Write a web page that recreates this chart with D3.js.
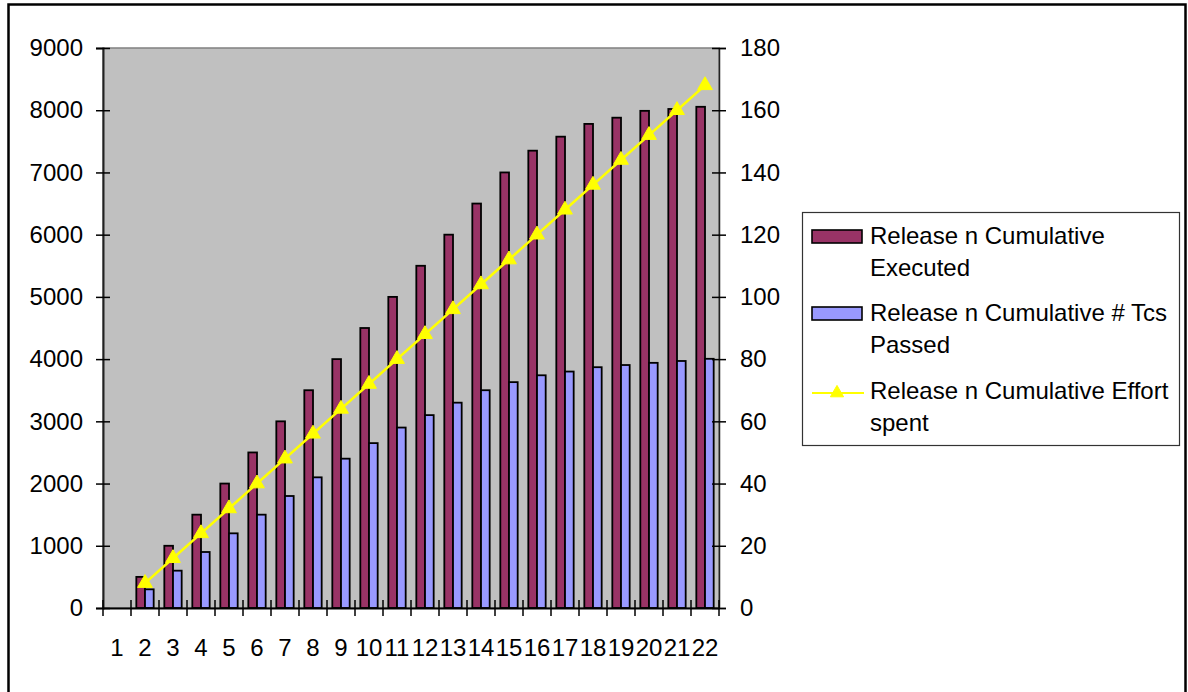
<!DOCTYPE html>
<html>
<head>
<meta charset="utf-8">
<script src="https://cdn.jsdelivr.net/npm/d3@7"></script>
<style>
  html, body { margin: 0; padding: 0; background: #ffffff; }
  svg { display: block; }
  text { font-family: "Liberation Sans", Arial, sans-serif; fill: #000; }
</style>
</head>
<body>
<svg id="chart" width="1188" height="692"></svg>
<script>
// Categories (release iterations)
const categories = ["1","2","3","4","5","6","7","8","9","10","11","12","13","14","15","16","17","18","19","20","21","22"];

// Cumulative test cases executed (left axis)
const executed = [null, 500, 1000, 1500, 2000, 2500, 3000, 3500, 4000, 4500, 5000, 5500, 6000, 6500, 7000, 7350, 7575, 7780, 7880, 7990, 8020, 8055];

// Cumulative test cases passed (left axis)
const passed = [null, 300, 600, 900, 1200, 1500, 1800, 2100, 2400, 2650, 2900, 3100, 3300, 3500, 3630, 3740, 3800, 3870, 3905, 3940, 3970, 4005];

// Cumulative effort spent (right axis)
const effort = [null, 8, 16, 24, 32, 40, 48, 56, 64, 72, 80, 88, 96, 104, 112, 120, 128, 136, 144, 152, 160, 168];

const leftTicks = [0, 1000, 2000, 3000, 4000, 5000, 6000, 7000, 8000, 9000];
const rightTicks = [0, 20, 40, 60, 80, 100, 120, 140, 160, 180];

const legendLines = [["Release n Cumulative", "Executed"], ["Release n Cumulative # Tcs", "Passed"], ["Release n Cumulative Effort", "spent"]];

const colors = { executed: "#993366", passed: "#9999FF", effort: "#FFFF00" };

const svg = d3.select("#chart");
const plot = { left: 103, right: 719, top: 48, bottom: 608 };
const FS = 24;
const FONT = "Liberation Sans, Arial, sans-serif";

// Outer chart frame
svg.append("rect")
  .attr("x", 8.5).attr("y", 4.5).attr("width", 1177).attr("height", 700)
  .attr("fill", "#fff").attr("stroke", "#000").attr("stroke-width", 2.5);

// Scales
const xOuter = d3.scaleBand().domain(categories).range([plot.left, plot.right]).padding(0);
const xGroup = d3.scaleBand().domain(categories).range([plot.left, plot.right])
  .paddingInner(0.38).paddingOuter(0.19);
const xSub = d3.scaleBand().domain(["executed", "passed"]).range([0, xGroup.bandwidth()]).padding(0);
const yLeft = d3.scaleLinear().domain([0, 9000]).range([plot.bottom, plot.top]);
const yRight = d3.scaleLinear().domain([0, 180]).range([plot.bottom, plot.top]);

// Plot area background
svg.append("rect")
  .attr("x", plot.left).attr("y", plot.top)
  .attr("width", plot.right - plot.left).attr("height", plot.bottom - plot.top)
  .attr("fill", "#C0C0C0").attr("stroke", "#808080").attr("stroke-width", 1.5);

// Bars
const rows = categories.map((c, i) => ({ c, executed: executed[i], passed: passed[i] }));
const groups = svg.append("g").selectAll("g").data(rows).join("g")
  .attr("transform", d => `translate(${xGroup(d.c)},0)`);
groups.selectAll("rect")
  .data(d => ["executed", "passed"].filter(k => d[k] != null).map(k => ({ k, v: d[k] })))
  .join("rect")
  .attr("x", d => xSub(d.k))
  .attr("width", xSub.bandwidth())
  .attr("y", d => yLeft(d.v))
  .attr("height", d => yLeft(0) - yLeft(d.v))
  .attr("fill", d => colors[d.k])
  .attr("stroke", "#000").attr("stroke-width", 1.8);

// Left axis
const leftAxis = svg.append("g").attr("transform", `translate(${plot.left},0)`)
  .call(d3.axisLeft(yLeft).tickValues(leftTicks).tickSize(7).tickPadding(13).tickFormat(d3.format("d")));
leftAxis.select(".domain").attr("stroke", "#222").attr("stroke-width", 2);
leftAxis.selectAll(".tick line").attr("x2", -7).attr("x1", 7).attr("stroke", "#000").attr("stroke-width", 1.5);
leftAxis.selectAll("text").attr("font-size", FS).attr("font-family", FONT).attr("fill", "#000");

// Right axis
const rightAxis = svg.append("g").attr("transform", `translate(${plot.right},0)`)
  .call(d3.axisRight(yRight).tickValues(rightTicks).tickSize(7).tickPadding(14).tickFormat(d3.format("d")));
rightAxis.select(".domain").attr("stroke", "#222").attr("stroke-width", 1.5);
rightAxis.selectAll(".tick line").attr("x1", -7).attr("x2", 7).attr("stroke", "#000").attr("stroke-width", 1.5);
rightAxis.selectAll("text").attr("font-size", FS).attr("font-family", FONT).attr("fill", "#000");

// Category axis: labels centred in each band, ticks on band boundaries
const bottomAxis = svg.append("g").attr("transform", `translate(0,${plot.bottom})`)
  .call(d3.axisBottom(xOuter).tickSize(0).tickPadding(31));
bottomAxis.select(".domain").attr("stroke", "#000").attr("stroke-width", 2);
bottomAxis.selectAll("text").attr("font-size", FS).attr("font-family", FONT).attr("fill", "#000");
const boundaries = categories.map(c => xOuter(c)).concat([xOuter.range()[1]]);
bottomAxis.selectAll("line.boundary").data(boundaries).join("line")
  .attr("class", "boundary")
  .attr("x1", d => d).attr("x2", d => d)
  .attr("y1", -8).attr("y2", 8)
  .attr("stroke", "#000").attr("stroke-width", 1.5);

// Effort line with triangle markers
const pts = categories.map((c, i) => ({ c, v: effort[i] })).filter(d => d.v != null);
const cx = d => xOuter(d.c) + xOuter.bandwidth() / 2;
svg.append("path")
  .datum(pts)
  .attr("fill", "none").attr("stroke", colors.effort).attr("stroke-width", 2.5)
  .attr("d", d3.line().x(cx).y(d => yRight(d.v)));
const tri = d3.symbol().type(d3.symbolTriangle).size(95);
svg.append("g").selectAll("path").data(pts).join("path")
  .attr("transform", d => `translate(${cx(d)},${yRight(d.v)})`)
  .attr("d", tri())
  .attr("fill", colors.effort).attr("stroke", colors.effort).attr("stroke-width", 1);

// Legend
const legend = svg.append("g");
legend.append("rect")
  .attr("x", 802.5).attr("y", 212.5).attr("width", 377).attr("height", 233)
  .attr("fill", "#fff").attr("stroke", "#333").attr("stroke-width", 1.2);
const itemTop = [244, 321, 399];
["executed", "passed"].forEach((k, i) => {
  legend.append("rect")
    .attr("x", 812).attr("y", itemTop[i] - 14).attr("width", 50).attr("height", 13)
    .attr("fill", colors[k]).attr("stroke", "#000").attr("stroke-width", 1.6);
});
legend.append("line")
  .attr("x1", 812).attr("x2", 864).attr("y1", itemTop[2] - 6).attr("y2", itemTop[2] - 6)
  .attr("stroke", colors.effort).attr("stroke-width", 2);
legend.append("path")
  .attr("transform", `translate(837,${itemTop[2] - 6})`)
  .attr("d", d3.symbol().type(d3.symbolTriangle).size(75)()).attr("fill", colors.effort).attr("stroke", colors.effort);
legendLines.forEach((lines, i) => {
  const t = legend.append("text").attr("x", 870).attr("y", itemTop[i]).attr("font-size", FS);
  lines.forEach((s, j) => t.append("tspan").attr("x", 870).attr("dy", j === 0 ? 0 : 32).text(s));
});
</script>
</body>
</html>
